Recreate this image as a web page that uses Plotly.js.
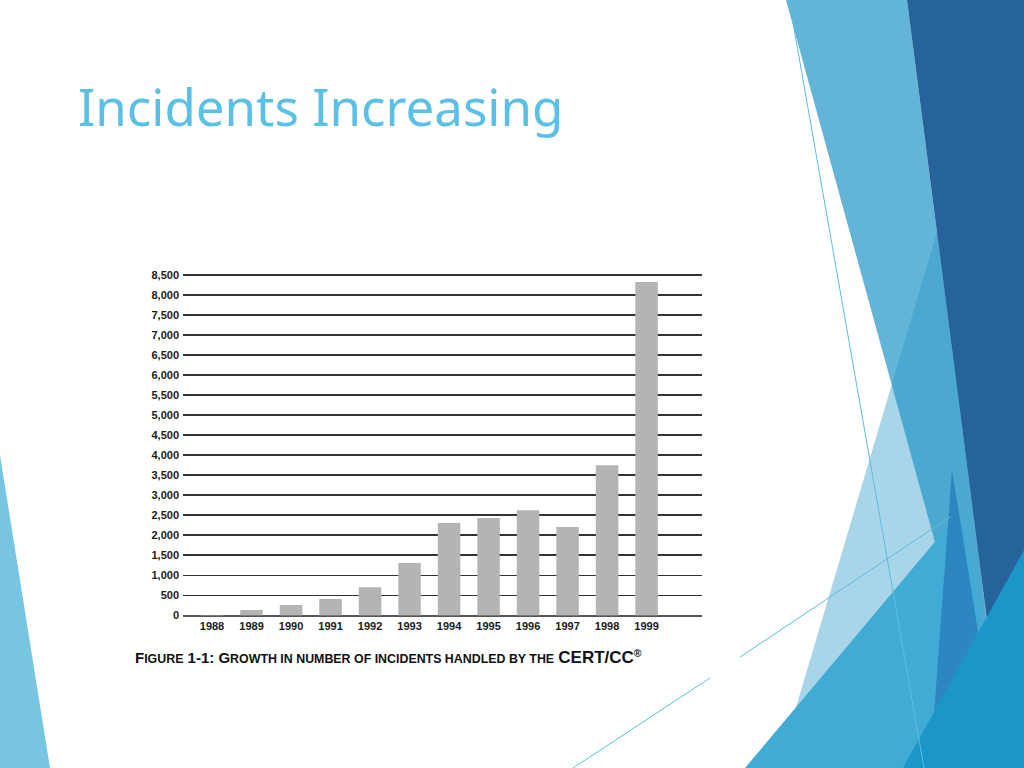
<!DOCTYPE html>
<html>
<head>
<meta charset="utf-8">
<script src="https://cdn.plot.ly/plotly-3.0.1.min.js"></script>
<style>html,body{margin:0;padding:0;background:#fff;}#chart{width:1024px;height:768px;}</style>
</head>
<body>
<div id="chart"></div>
<script>
// ---- data ----
const years = ['1988','1989','1990','1991','1992','1993','1994','1995','1996','1997','1998','1999'];
const incidents = [10, 137, 262, 411, 703, 1309, 2307, 2431, 2623, 2207, 3746, 8317];
const titleText = 'Incidents Increasing';
const captionText = 'F<span style="font-size:12.4px">IGURE</span> 1-1: G<span style="font-size:12.4px">ROWTH IN NUMBER OF INCIDENTS HANDLED BY THE</span> <span style="font-size:17px">CERT/CC</span><sup>®</sup>';

// ---- decoration helpers (slide background, pixel space -> paper) ----
const W = 1024, H = 768;
function poly(pts, color, opacity) {
  const d = pts.map((p, i) => (i ? 'L' : 'M') + (p[0] / W).toFixed(5) + ',' + (1 - p[1] / H).toFixed(5)).join(' ') + ' Z';
  return {type: 'path', xref: 'paper', yref: 'paper', path: d, fillcolor: color, opacity: opacity || 1, line: {width: 0}, layer: 'below'};
}
function seg(a, b, color) {
  return {type: 'line', xref: 'paper', yref: 'paper', x0: a[0] / W, y0: 1 - a[1] / H, x1: b[0] / W, y1: 1 - b[1] / H, line: {color: color, width: 1}, layer: 'below'};
}
const deco = [
  poly([[0,455],[50,768],[0,768]], '#78c5e1'),
  poly([[786,0],[907,0],[1006,768],[997,768]], '#62b5d7'),
  poly([[945,205],[1000,768],[778,768]], 'rgb(40,150,200)', 0.4),
  poly([[907,0],[1024,0],[1024,768],[1006,768]], '#26639a'),
  poly([[745,768],[960,512],[1010,768]], '#40acd5'),
  poly([[952,470],[1000,768],[930,768]], '#2c86bf'),
  poly([[903,768],[1024,550],[1024,768]], '#1a96c8'),
  seg([789,0],[924,768], '#5bbde0'),
  seg([740,657],[950,517], '#5bbde0'),
  seg([573,768],[710,678], '#5bbde0')
];

const trace = {
  type: 'bar', x: years, y: incidents,
  marker: {color: '#b4b4b4', line: {width: 0}},
  width: 0.57, hoverinfo: 'x+y'
};

const pxPerUnit = (615.5 - 274.7) / 8500;
const yMin = -5, yMax = 8560;
const yBottomPx = 615.5 - yMin * pxPerUnit;
const yTopPx = 615.5 - yMax * pxPerUnit;

const layout = {
  width: W, height: H,
  margin: {l: 0, r: 0, t: 0, b: 0},
  paper_bgcolor: '#ffffff', plot_bgcolor: 'rgba(0,0,0,0)',
  showlegend: false,
  xaxis: {
    type: 'category', domain: [183/1024, 701.5/1024], range: [-0.734, 12.39],
    showgrid: false, showline: false, ticks: '', zeroline: false,
    tickfont: {family: 'Liberation Sans, Arial, sans-serif', size: 11, color: '#1a1a1a', weight: 'bold'},
    ticklabelstandoff: 2, fixedrange: true
  },
  yaxis: {
    domain: [1 - yBottomPx/768, 1 - yTopPx/768], range: [yMin, yMax],
    tick0: 0, dtick: 500, tickformat: ',d',
    showgrid: true, gridcolor: '#333', gridwidth: 1.8,
    zeroline: true, zerolinecolor: '#555', zerolinewidth: 2,
    showline: false, ticks: '',
    tickfont: {family: 'Liberation Sans, Arial, sans-serif', size: 11, color: '#1a1a1a', weight: 'bold'},
    ticklabelstandoff: 3, fixedrange: true
  },
  shapes: deco,
  annotations: [
    {xref: 'paper', yref: 'paper', x: 76/1024, y: 1 - 106/768, xanchor: 'left', yanchor: 'middle',
     text: titleText, showarrow: false,
     font: {family: 'Noto Sans, Open Sans, sans-serif', size: 51, color: '#5bc0e6'}},
    {xref: 'paper', yref: 'paper', x: 133/1024, y: 1 - 657/768, xanchor: 'left', yanchor: 'middle',
     text: '<b>' + captionText + '</b>', showarrow: false,
     font: {family: 'Liberation Sans, Arial, sans-serif', size: 15, color: '#111'}}
  ],
  bargap: 0.43
};

Plotly.newPlot('chart', [trace], layout, {displayModeBar: false, staticPlot: true});
</script>
</body>
</html>
